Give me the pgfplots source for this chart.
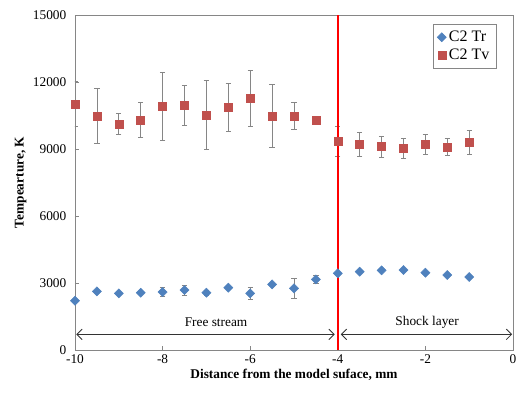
\documentclass[border=0pt]{standalone}
\usepackage{pgfplots}
\pgfplotsset{compat=1.18}
\usepackage{fontspec}
\setmainfont{Liberation Serif}
\usetikzlibrary{arrows.meta}
\definecolor{trblue}{HTML}{4F81BD}
\definecolor{tvred}{HTML}{C0504D}
\definecolor{axgray}{HTML}{868686}
\definecolor{vred}{HTML}{FF0000}
\begin{document}
\begin{tikzpicture}
\begin{axis}[
  at={(0,0)}, anchor=south west,
  scale only axis, width=328.5pt, height=251.25pt,
  xmin=-10, xmax=0, ymin=0, ymax=15000,
  xtick={-10,-8,-6,-4,-2,0},
  ytick={0,3000,6000,9000,12000,15000},
  scaled y ticks=false,
  tick align=inside, xtick pos=bottom, ytick pos=left,
  axis line style={axgray},
  tick style={axgray, major tick length=3pt},
  /pgf/number format/1000 sep={},
  /pgf/number format/assume math mode=true,
  tick label style={font=\fontsize{10}{12}\selectfont},
  yticklabel style={xshift=-3pt},
  xlabel={\bfseries Distance from the model suface, mm},
  ylabel={\bfseries Tempearture, K},
  label style={font=\fontsize{10}{12}\selectfont},
  xlabel style={yshift=3pt},
  ylabel style={yshift=-2pt},
  legend style={at={(0.962,0.973)}, anchor=north east, draw=axgray, font=\fontsize{12}{14}\selectfont, inner xsep=3pt, inner ysep=3pt, row sep=0pt, legend cell align=left},
  legend image code/.code={\draw[#1] plot coordinates {(0.15cm,0cm)};},
  error bars/error bar style={axgray, line width=0.6pt},
  error bars/error mark options={rotate=90, axgray, mark size=2pt, line width=0.6pt},
]
\addplot[only marks, mark=square*, mark size=2.4pt, mark options={rotate=45, fill=trblue, draw=trblue},
  error bars/.cd, y dir=both, y explicit]
coordinates {
(-10,2206) +- (0,0)
(-9.5,2625) +- (0,0)
(-9,2535) +- (0,0)
(-8.5,2565) +- (0,0)
(-8,2595) +- (0,200)
(-7.5,2685) +- (0,220)
(-7,2565) +- (0,110)
(-6.5,2790) +- (0,0)
(-6,2535) +- (0,270)
(-5.5,2938) +- (0,0)
(-5,2760) +- (0,440)
(-4.5,3160) +- (0,180)
(-4,3433) +- (0,0)
(-3.5,3507) +- (0,0)
(-3,3567) +- (0,0)
(-2.5,3580) +- (0,0)
(-2,3460) +- (0,0)
(-1.5,3357) +- (0,0)
(-1,3268) +- (0,0)
};
\addlegendentry{C2 Tr}
\addplot[only marks, mark=square*, mark size=3pt, mark options={fill=tvred, draw=tvred},
  error bars/.cd, y dir=both, y explicit]
coordinates {
(-10,11014) +- (0,1000)
(-9.5,10477) +- (0,1230)
(-9,10105) +- (0,470)
(-8.5,10300) +- (0,780)
(-8,10900) +- (0,1520)
(-7.5,10970) +- (0,900)
(-7,10520) +- (0,1540)
(-6.5,10866) +- (0,1060)
(-6,11270) +- (0,1240)
(-5.5,10477) +- (0,1400)
(-5,10477) +- (0,600)
(-4.5,10270) +- (0,0)
(-4,9330) +- (0,670)
(-3.5,9224) +- (0,540)
(-3,9105) +- (0,480)
(-2.5,9015) +- (0,450)
(-2,9210) +- (0,450)
(-1.5,9090) +- (0,390)
(-1,9285) +- (0,540)
};
\addlegendentry{C2 Tv}
\addplot[draw=vred, line width=1.2pt, no marks, forget plot] coordinates {(-4,0) (-4,15000)};
\draw[{Straight Barb[length=4pt,width=8pt]}-{Straight Barb[length=4pt,width=8pt]}, line width=0.6pt, black!80]
  (axis cs:-9.97,700) -- (axis cs:-4.07,700);
\draw[{Straight Barb[length=4pt,width=8pt]}-{Straight Barb[length=4pt,width=8pt]}, line width=0.6pt, black!80]
  (axis cs:-3.93,700) -- (axis cs:-0.02,700);
\node[font=\fontsize{10}{12}\selectfont] at (axis cs:-6.78,1230) {Free stream};
\node[font=\fontsize{10}{12}\selectfont] at (axis cs:-1.96,1230) {Shock layer};
\end{axis}
\pgfresetboundingbox
\useasboundingbox (-56.25pt,-33pt) rectangle (332.25pt,262.5pt);
\end{tikzpicture}
\end{document}
